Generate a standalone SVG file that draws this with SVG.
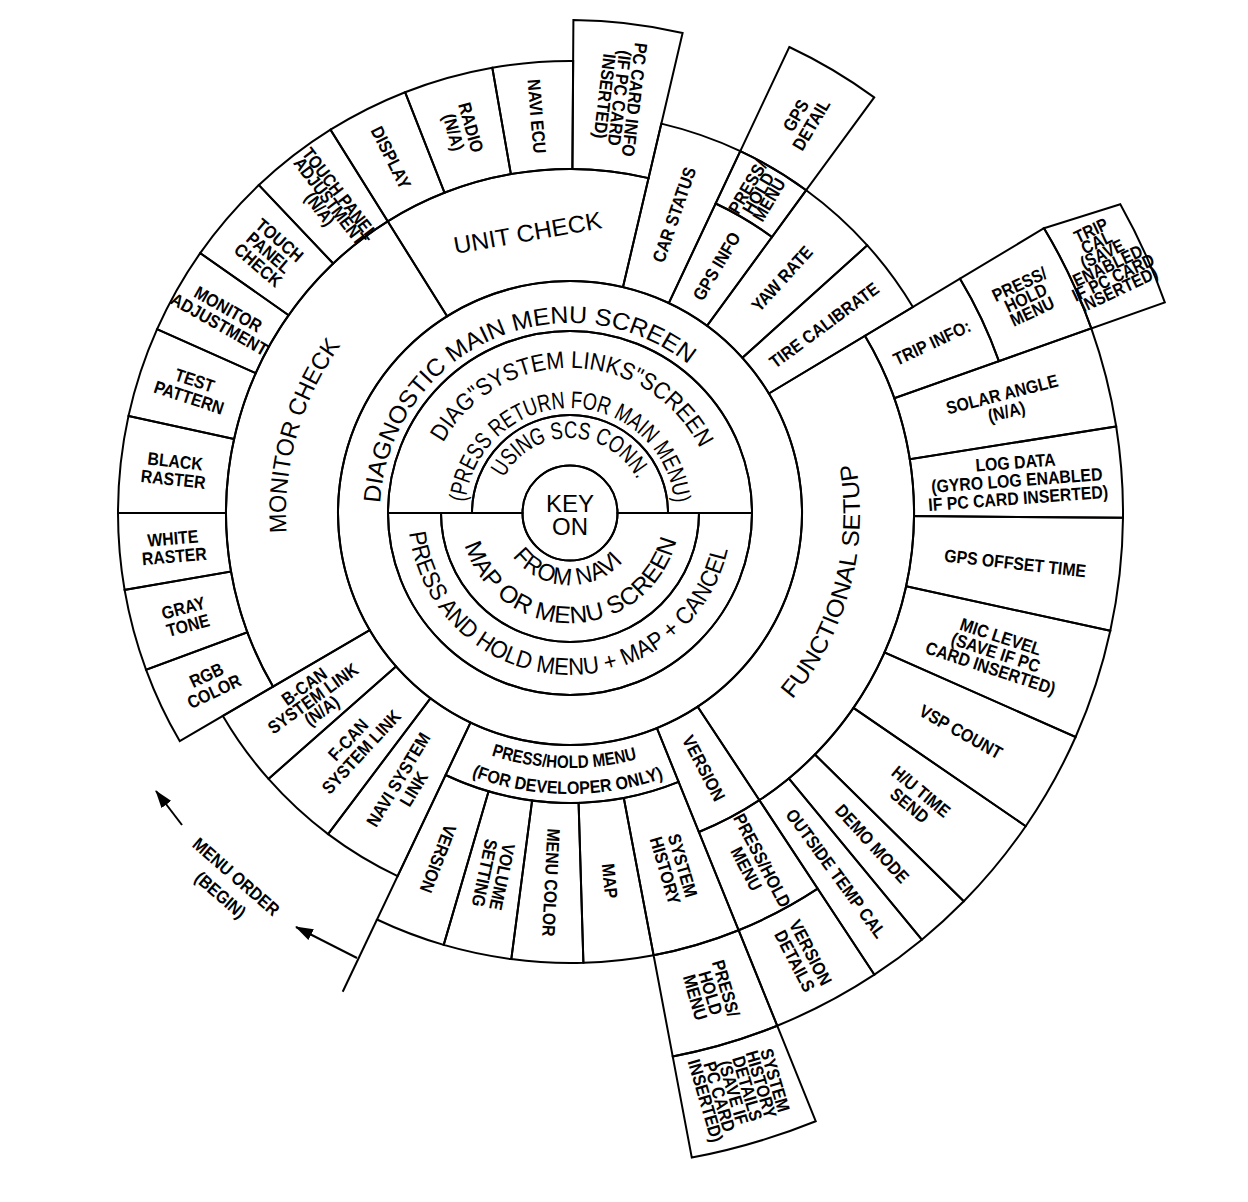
<svg xmlns="http://www.w3.org/2000/svg" width="1248" height="1202" viewBox="0 0 1248 1202">
<style>
.c{fill:none;stroke:#000;stroke-width:2}
.lb{font-family:"Liberation Sans",Arial,Helvetica,sans-serif;font-weight:bold;font-size:18px;text-anchor:middle;fill:#000}
.big{font-family:"Liberation Sans",Arial,Helvetica,sans-serif;font-size:24px;fill:#000}
</style>
<defs>
<marker id="ah" viewBox="0 0 18 12" refX="17" refY="6" markerWidth="18" markerHeight="12" markerUnits="userSpaceOnUse" orient="auto"><path d="M0,0 L18,6 L0,12 Z" fill="#000"/></marker>
<path id="p-diag" d="M 380.3 503.1 A 190 190 0 0 1 694.7 369.6"/>
<path id="p-links" d="M 443.2 442.7 A 145 145 0 0 1 702.5 454.0"/>
<path id="p-press" d="M 465.6 502.0 A 105 105 0 0 1 674.9 508.4"/>
<path id="p-scs" d="M 503.8 477.8 A 75 75 0 0 1 638.5 482.5"/>
<path id="p-navi" d="M 512.5 556.3 A 72 72 0 0 0 626.0 558.3"/>
<path id="p-map" d="M 464.8 545.2 A 110 110 0 0 0 678.0 534.0"/>
<path id="p-hold" d="M 409.2 532.7 A 162 162 0 0 0 729.5 541.1"/>
<path id="p-mon" d="M 286.7 532.8 A 284 284 0 0 1 343.2 342.1"/>
<path id="p-func" d="M 792.2 699.4 A 290 290 0 0 0 854.7 457.7"/>
<path id="p-dev1" d="M 489.1 754.8 A 255 255 0 0 0 639.4 758.4"/>
<path id="p-dev2" d="M 469.3 775.3 A 281 281 0 0 0 666.1 777.1"/>
</defs>
<rect x="0" y="0" width="1248" height="1202" fill="#fff"/>

<!-- centre -->
<g id="key-on"><circle class="c" cx="570" cy="513" r="47.5"/>
<text class="big" font-size="23" text-anchor="middle"><tspan x="570" y="512">KEY</tspan><tspan x="570" y="535">ON</tspan></text></g>
<g id="using-scs"><path class="c" d="M 472 513 A 98 98 0 0 1 668 513 L 617.5 513 A 47.5 47.5 0 0 0 522.5 513 Z"/>
<text class="big" font-size="19"><textPath href="#p-scs" textLength="164" lengthAdjust="spacingAndGlyphs">USING SCS CONN.</textPath></text></g>
<g id="system-links"><path class="c" d="M 388 513 A 182 182 0 0 1 752 513 L 668 513 A 98 98 0 0 0 472 513 Z"/>
<text class="big" font-size="22"><textPath href="#p-links" textLength="315" lengthAdjust="spacingAndGlyphs">DIAG"SYSTEM LINKS"SCREEN</textPath></text>
<text class="big" font-size="21"><textPath href="#p-press" textLength="308" lengthAdjust="spacingAndGlyphs">(PRESS RETURN FOR MAIN MENU)</textPath></text></g>
<g id="from-navi"><path class="c" d="M 441 513 A 129 129 0 0 0 699 513 L 617.5 513 A 47.5 47.5 0 0 1 522.5 513 Z"/>
<text class="big" font-size="21"><textPath href="#p-navi" textLength="126" lengthAdjust="spacingAndGlyphs">FROM NAVI</textPath></text>
<text class="big" font-size="21"><textPath href="#p-map" textLength="285" lengthAdjust="spacingAndGlyphs">MAP OR MENU SCREEN</textPath></text></g>
<g id="press-hold-cancel"><path class="c" d="M 388 513 A 182 182 0 0 0 752 513 L 699 513 A 129 129 0 0 1 441 513 Z"/>
<text class="big" font-size="22"><textPath href="#p-hold" textLength="452" lengthAdjust="spacingAndGlyphs">PRESS AND HOLD MENU + MAP + CANCEL</textPath></text></g>
<g id="main-menu"><circle class="c" cx="570" cy="513" r="182"/><circle class="c" cx="570" cy="513" r="232"/>
<text class="big" font-size="25"><textPath href="#p-diag" textLength="416" lengthAdjust="spacingAndGlyphs">DIAGNOSTIC MAIN MENU SCREEN</textPath></text></g>

<!-- main sectors -->
<g id="monitor-check"><path class="c" d="M 369.7 630.1 L 273.0 686.6 A 344 344 0 0 1 387.7 221.3 L 447.1 316.3 A 232 232 0 0 0 369.7 630.1 Z"/>
<text class="big" font-size="28"><textPath href="#p-mon" textLength="199" lengthAdjust="spacingAndGlyphs">MONITOR CHECK</textPath></text></g>
<g id="unit-check"><path class="c" d="M 447.1 316.3 L 387.7 221.3 A 344 344 0 0 1 648.6 178.1 L 623.0 287.1 A 232 232 0 0 0 447.1 316.3 Z"/>
<text class="big" font-size="27" text-anchor="middle" transform="translate(529,241) rotate(-10)" textLength="150" lengthAdjust="spacingAndGlyphs">UNIT CHECK</text></g>
<g id="functional-setup"><path class="c" d="M 768.9 393.5 L 864.9 335.8 A 344 344 0 0 1 759.4 800.2 L 697.7 706.7 A 232 232 0 0 0 768.9 393.5 Z"/>
<text class="big" font-size="28"><textPath href="#p-func" textLength="252" lengthAdjust="spacingAndGlyphs">FUNCTIONAL SETUP</textPath></text></g>

<!-- monitor check items -->
<g id="rgb-color"><path class="c" d="M 273.0 686.6 L 179.7 741.1 A 452 452 0 0 1 146.1 669.8 L 247.4 632.3 A 344 344 0 0 0 273.0 686.6 Z"/>
<text class="lb" transform="translate(210.2,683.1) rotate(-25.3) scale(0.88,1)"><tspan x="0" y="-2.5">RGB</tspan><tspan x="0" y="15.5">COLOR</tspan></text></g>
<g id="gray-tone"><path class="c" d="M 247.4 632.3 L 146.1 669.8 A 452 452 0 0 1 124.6 589.9 L 231.0 571.6 A 344 344 0 0 0 247.4 632.3 Z"/>
<text class="lb" transform="translate(185.6,616.4) rotate(-15.05) scale(0.88,1)"><tspan x="0" y="-2.5">GRAY</tspan><tspan x="0" y="15.5">TONE</tspan></text></g>
<g id="white-raster"><path class="c" d="M 231.0 571.6 L 124.6 589.9 A 452 452 0 0 1 118 513 L 226 513 A 344 344 0 0 0 231.0 571.6 Z"/>
<text class="lb" transform="translate(173.5,547) rotate(-4.9) scale(0.88,1)"><tspan x="0" y="-2.5">WHITE</tspan><tspan x="0" y="15.5">RASTER</tspan></text></g>
<g id="black-raster"><path class="c" d="M 226 513 L 118 513 A 452 452 0 0 1 128.5 415.9 L 234.0 439.1 A 344 344 0 0 0 226 513 Z"/>
<text class="lb" transform="translate(174.3,470) rotate(6.2) scale(0.88,1)"><tspan x="0" y="-2.5">BLACK</tspan><tspan x="0" y="15.5">RASTER</tspan></text></g>
<g id="test-pattern"><path class="c" d="M 234.0 439.1 L 128.5 415.9 A 452 452 0 0 1 157.1 329.2 L 255.7 373.1 A 344 344 0 0 0 234.0 439.1 Z"/>
<text class="lb" transform="translate(191.9,388.7) rotate(18.2) scale(0.88,1)"><tspan x="0" y="-2.5">TEST</tspan><tspan x="0" y="15.5">PATTERN</tspan></text></g>
<g id="monitor-adjustment"><path class="c" d="M 255.7 373.1 L 157.1 329.2 A 452 452 0 0 1 200.2 253.1 L 288.6 315.2 A 344 344 0 0 0 255.7 373.1 Z"/>
<text class="lb" font-size="17" transform="translate(223.8,316.7) rotate(29.55) scale(0.88,1)"><tspan x="0" y="-2.5">MONITOR</tspan><tspan x="0" y="15">ADJUSTMENT</tspan></text></g>
<g id="touch-panel-check"><path class="c" d="M 288.6 315.2 L 200.2 253.1 A 452 452 0 0 1 258.9 185.1 L 333.2 263.5 A 344 344 0 0 0 288.6 315.2 Z"/>
<text class="lb" transform="translate(268.7,252.9) rotate(40.8) scale(0.88,1)"><tspan x="0" y="-10.5">TOUCH</tspan><tspan x="0" y="6">PANEL</tspan><tspan x="0" y="22.5">CHECK</tspan></text></g>
<g id="touch-panel-adjustment"><path class="c" d="M 333.2 263.5 L 258.9 185.1 A 452 452 0 0 1 330.5 129.7 L 387.7 221.3 A 344 344 0 0 0 333.2 263.5 Z"/>
<text class="lb" font-size="13.5" transform="translate(329,202) rotate(52.25) scale(0.86,1)"><tspan x="0" y="-7.5">TOUCH PANEL</tspan><tspan x="0" y="5">ADJUSTMENT</tspan><tspan x="0" y="17.5">(N/A)</tspan></text></g>

<!-- unit check items -->
<g id="display"><path class="c" d="M 387.7 221.3 L 330.5 129.7 A 452 452 0 0 1 405.1 92.2 L 444.5 192.7 A 344 344 0 0 0 387.7 221.3 Z"/>
<text class="lb" transform="translate(391.2,157.4) rotate(63.3) scale(0.88,1)"><tspan x="0" y="6.5">DISPLAY</tspan></text></g>
<g id="radio"><path class="c" d="M 444.5 192.7 L 405.1 92.2 A 452 452 0 0 1 492.3 67.7 L 510.9 174.1 A 344 344 0 0 0 444.5 192.7 Z"/>
<text class="lb" transform="translate(462.6,129.8) rotate(74.35) scale(0.88,1)"><tspan x="0" y="-2.5">RADIO</tspan><tspan x="0" y="15.5">(N/A)</tspan></text></g>
<g id="navi-ecu"><path class="c" d="M 510.9 174.1 L 492.3 67.7 A 452 452 0 0 1 573.2 61.0 L 572.4 169.0 A 344 344 0 0 0 510.9 174.1 Z"/>
<text class="lb" transform="translate(537,116.3) rotate(85.25) scale(0.88,1)"><tspan x="0" y="6.5">NAVI ECU</tspan></text></g>
<g id="pc-card-info"><path class="c" d="M 572.4 169.0 L 573.4 20.0 A 493 493 0 0 1 682.6 33.0 L 648.6 178.1 A 344 344 0 0 0 572.4 169.0 Z"/>
<text class="lb" font-size="17" transform="translate(619.5,98) rotate(96.8) scale(0.88,1)"><tspan x="0" y="-8.9">PC CARD INFO</tspan><tspan x="0" y="6.1">(IF PC CARD</tspan><tspan x="0" y="21.1">INSERTED)</tspan></text></g>

<!-- functional setup items -->
<g id="car-status"><path class="c" d="M 623.0 287.1 L 661.3 123.6 A 400 400 0 0 1 740.3 151.1 L 668.8 303.1 A 232 232 0 0 0 623.0 287.1 Z"/>
<text class="lb" transform="translate(674,214.6) rotate(-70.8) scale(0.88,1)"><tspan x="0" y="6.5">CAR STATUS</tspan></text></g>
<g id="gps-info"><path class="c" d="M 668.8 303.1 L 715.6 203.5 A 342 342 0 0 1 772.0 237.0 L 707.0 325.8 A 232 232 0 0 0 668.8 303.1 Z"/>
<text class="lb" transform="translate(716.5,266.2) rotate(-59.3) scale(0.88,1)"><tspan x="0" y="6.5">GPS INFO</tspan></text></g>
<g id="gps-press-hold"><path class="c" d="M 715.6 203.5 L 740.3 151.1 A 400 400 0 0 1 806.2 190.2 L 772.0 237.0 A 342 342 0 0 0 715.6 203.5 Z"/>
<text class="lb" font-size="13.5" transform="translate(759.4,194) rotate(-59.3) scale(0.88,1)"><tspan x="0" y="-7.5">PRESS/</tspan><tspan x="0" y="5">HOLD</tspan><tspan x="0" y="17.5">MENU</tspan></text></g>
<g id="gps-detail"><path class="c" d="M 740.3 151.1 L 789.3 47.0 A 515 515 0 0 1 874.2 97.4 L 806.2 190.2 A 400 400 0 0 0 740.3 151.1 Z"/>
<text class="lb" transform="translate(803.3,120) rotate(-59.3) scale(0.88,1)"><tspan x="0" y="-2.5">GPS</tspan><tspan x="0" y="15.5">DETAIL</tspan></text></g>
<g id="yaw-rate"><path class="c" d="M 707.0 325.8 L 806.2 190.2 A 400 400 0 0 1 867.3 245.3 L 742.4 357.8 A 232 232 0 0 0 707.0 325.8 Z"/>
<text class="lb" transform="translate(781.8,278.5) rotate(-47.9) scale(0.88,1)"><tspan x="0" y="6.5">YAW RATE</tspan></text></g>
<g id="tire-calibrate"><path class="c" d="M 742.4 357.8 L 867.3 245.3 A 400 400 0 0 1 912.9 307.0 L 768.9 393.5 A 232 232 0 0 0 742.4 357.8 Z"/>
<text class="lb" transform="translate(824,325) rotate(-36.5) scale(0.88,1)"><tspan x="0" y="6.5">TIRE CALIBRATE</tspan></text></g>
<g id="trip-info"><path class="c" d="M 864.9 335.8 L 960.0 278.7 A 455 455 0 0 1 998.9 361.1 L 894.3 398.2 A 344 344 0 0 0 864.9 335.8 Z"/>
<text class="lb" transform="translate(931.8,342.4) rotate(-25.25) scale(0.88,1)"><tspan x="0" y="6.5">TRIP INFO:</tspan></text></g>
<g id="trip-press-hold"><path class="c" d="M 960.0 278.7 L 1044.0 228.2 A 553 553 0 0 1 1091.3 328.4 L 998.9 361.1 A 455 455 0 0 0 960.0 278.7 Z"/>
<text class="lb" font-size="17" transform="translate(1025.8,298) rotate(-25.25) scale(0.88,1)"><tspan x="0" y="-8.9">PRESS/</tspan><tspan x="0" y="6.1">HOLD</tspan><tspan x="0" y="21.1">MENU</tspan></text></g>
<g id="trip-cal"><path class="c" d="M 1044.0 228.2 L 1120.3 204.2 A 631 631 0 0 1 1164.8 302.4 L 1091.3 328.4 A 553 553 0 0 0 1044.0 228.2 Z"/>
<text class="lb" font-size="13" transform="translate(1105.4,261) rotate(-25.25) scale(0.86,1)"><tspan x="0" y="-27.5">TRIP</tspan><tspan x="0" y="-14.5">CAL</tspan><tspan x="0" y="-1.5">(SAVE</tspan><tspan x="0" y="11.5">ENABLED</tspan><tspan x="0" y="24.5">IF PC CARD</tspan><tspan x="0" y="37.5">INSERTED)</tspan></text></g>
<g id="solar-angle"><path class="c" d="M 894.3 398.2 L 1091.3 328.4 A 553 553 0 0 1 1116.2 426.5 L 909.8 459.2 A 344 344 0 0 0 894.3 398.2 Z"/>
<text class="lb" transform="translate(1004.2,402.7) rotate(-14.25) scale(0.88,1)"><tspan x="0" y="-2.5">SOLAR ANGLE</tspan><tspan x="0" y="15.5">(N/A)</tspan></text></g>
<g id="log-data"><path class="c" d="M 909.8 459.2 L 1116.2 426.5 A 553 553 0 0 1 1123.0 517.8 L 914.0 516.0 A 344 344 0 0 0 909.8 459.2 Z"/>
<text class="lb" font-size="18.5" transform="translate(1016.8,479.8) rotate(-4.25) scale(0.88,1)"><tspan x="0" y="-11.3">LOG DATA</tspan><tspan x="0" y="6.7">(GYRO LOG ENABLED</tspan><tspan x="0" y="24.7">IF PC CARD INSERTED)</tspan></text></g>
<g id="gps-offset-time"><path class="c" d="M 914.0 516.0 L 1123.0 517.8 A 553 553 0 0 1 1110.3 630.8 L 906.1 586.3 A 344 344 0 0 0 914.0 516.0 Z"/>
<text class="lb" transform="translate(1015.2,563) rotate(6.4) scale(0.88,1)"><tspan x="0" y="6.5">GPS OFFSET TIME</tspan></text></g>
<g id="mic-level"><path class="c" d="M 906.1 586.3 L 1110.3 630.8 A 553 553 0 0 1 1075.6 737.0 L 884.5 652.4 A 344 344 0 0 0 906.1 586.3 Z"/>
<text class="lb" font-size="18.5" transform="translate(995.8,652.2) rotate(18.1) scale(0.88,1)"><tspan x="0" y="-10">MIC LEVEL</tspan><tspan x="0" y="6.5">(SAVE IF PC</tspan><tspan x="0" y="23">CARD INSERTED)</tspan></text></g>
<g id="vsp-count"><path class="c" d="M 884.5 652.4 L 1075.6 737.0 A 553 553 0 0 1 1025.7 826.2 L 853.5 707.9 A 344 344 0 0 0 884.5 652.4 Z"/>
<text class="lb" transform="translate(961,731.6) rotate(29.2) scale(0.88,1)"><tspan x="0" y="6.5">VSP COUNT</tspan></text></g>
<g id="hu-time-send"><path class="c" d="M 853.5 707.9 L 1025.7 826.2 A 553 553 0 0 1 963.8 901.3 L 814.9 754.5 A 344 344 0 0 0 853.5 707.9 Z"/>
<text class="lb" transform="translate(915.5,798.2) rotate(39.55) scale(0.88,1)"><tspan x="0" y="-2.5">H/U TIME</tspan><tspan x="0" y="15.5">SEND</tspan></text></g>
<g id="demo-mode"><path class="c" d="M 814.9 754.5 L 963.8 901.3 A 553 553 0 0 1 921.8 939.7 L 788.8 778.4 A 344 344 0 0 0 814.9 754.5 Z"/>
<text class="lb" transform="translate(872.4,843.6) rotate(47.55) scale(0.88,1)"><tspan x="0" y="6.5">DEMO MODE</tspan></text></g>
<g id="outside-temp-cal"><path class="c" d="M 788.8 778.4 L 921.8 939.7 A 553 553 0 0 1 874.4 974.7 L 759.4 800.2 A 344 344 0 0 0 788.8 778.4 Z"/>
<text class="lb" transform="translate(836.2,873.3) rotate(53.55) scale(0.88,1)"><tspan x="0" y="6.5">OUTSIDE TEMP CAL</tspan></text></g>

<!-- version / developer items -->
<g id="version-right"><path class="c" d="M 697.7 706.7 L 759.4 800.2 A 344 344 0 0 1 698.9 832.0 L 656.9 728.1 A 232 232 0 0 0 697.7 706.7 Z"/>
<text class="lb" transform="translate(703.9,768) rotate(62.3) scale(0.88,1)"><tspan x="0" y="6.5">VERSION</tspan></text></g>
<g id="version-press-hold"><path class="c" d="M 759.4 800.2 L 817.7 888.7 A 450 450 0 0 1 738.6 930.2 L 698.9 832.0 A 344 344 0 0 0 759.4 800.2 Z"/>
<text class="lb" transform="translate(754.5,864.5) rotate(62.3) scale(0.88,1)"><tspan x="0" y="-2.5">PRESS/HOLD</tspan><tspan x="0" y="15.5">MENU</tspan></text></g>
<g id="version-details"><path class="c" d="M 817.7 888.7 L 874.4 974.7 A 553 553 0 0 1 777.2 1025.7 L 738.6 930.2 A 450 450 0 0 0 817.7 888.7 Z"/>
<text class="lb" transform="translate(802.9,956.6) rotate(62.3) scale(0.88,1)"><tspan x="0" y="-2.5">VERSION</tspan><tspan x="0" y="15.5">DETAILS</tspan></text></g>
<g id="developer-menu"><path class="c" d="M 656.9 728.1 L 678.6 781.9 A 290 290 0 0 1 445.6 775.0 L 470.5 722.6 A 232 232 0 0 0 656.9 728.1 Z"/>
<text class="lb" font-size="16"><textPath href="#p-dev1" startOffset="50%" textLength="148" lengthAdjust="spacingAndGlyphs">PRESS/HOLD MENU</textPath></text>
<text class="lb" font-size="16"><textPath href="#p-dev2" startOffset="50%" textLength="196" lengthAdjust="spacingAndGlyphs">(FOR DEVELOPER ONLY)</textPath></text></g>
<g id="system-history"><path class="c" d="M 678.6 781.9 L 738.6 930.2 A 450 450 0 0 1 653.6 955.2 L 623.8 798.0 A 290 290 0 0 0 678.6 781.9 Z"/>
<text class="lb" transform="translate(674.2,868) rotate(73.65) scale(0.88,1)"><tspan x="0" y="-2.5">SYSTEM</tspan><tspan x="0" y="15.5">HISTORY</tspan></text></g>
<g id="history-press-hold"><path class="c" d="M 738.6 930.2 L 777.2 1025.7 A 553 553 0 0 1 672.7 1056.4 L 653.6 955.2 A 450 450 0 0 0 738.6 930.2 Z"/>
<text class="lb" transform="translate(710.8,992.8) rotate(73.65) scale(0.88,1)"><tspan x="0" y="-9.5">PRESS/</tspan><tspan x="0" y="6.5">HOLD</tspan><tspan x="0" y="22.5">MENU</tspan></text></g>
<g id="system-history-details"><path class="c" d="M 777.2 1025.7 L 815.7 1121.2 A 656 656 0 0 1 691.8 1157.6 L 672.7 1056.4 A 553 553 0 0 0 777.2 1025.7 Z"/>
<text class="lb" font-size="15" transform="translate(739.5,1090.7) rotate(73.65) scale(0.88,1)"><tspan x="0" y="-30.85">SYSTEM</tspan><tspan x="0" y="-16.35">HISTORY</tspan><tspan x="0" y="-1.85">DETAILS</tspan><tspan x="0" y="12.65">(SAVE IF</tspan><tspan x="0" y="27.15">PC CARD</tspan><tspan x="0" y="41.65">INSERTED)</tspan></text></g>
<g id="map"><path class="c" d="M 623.8 798.0 L 653.6 955.2 A 450 450 0 0 1 583.4 962.8 L 578.6 802.9 A 290 290 0 0 0 623.8 798.0 Z"/>
<text class="lb" transform="translate(610,880.9) rotate(83.8) scale(0.88,1)"><tspan x="0" y="6.5">MAP</tspan></text></g>
<g id="menu-color"><path class="c" d="M 578.6 802.9 L 583.4 962.8 A 450 450 0 0 1 511.3 959.1 L 532.1 800.5 A 290 290 0 0 0 578.6 802.9 Z"/>
<text class="lb" transform="translate(551.3,882.5) rotate(92.9) scale(0.88,1)"><tspan x="0" y="6.5">MENU COLOR</tspan></text></g>
<g id="volume-setting"><path class="c" d="M 532.1 800.5 L 511.3 959.1 A 450 450 0 0 1 443.7 944.9 L 488.6 791.3 A 290 290 0 0 0 532.1 800.5 Z"/>
<text class="lb" transform="translate(493.7,875) rotate(101.9) scale(0.88,1)"><tspan x="0" y="-2.5">VOLUME</tspan><tspan x="0" y="15.5">SETTING</tspan></text></g>
<g id="version-left"><path class="c" d="M 488.6 791.3 L 443.7 944.9 A 450 450 0 0 1 377.0 919.5 L 445.6 775.0 A 290 290 0 0 0 488.6 791.3 Z"/>
<text class="lb" transform="translate(438.3,858.8) rotate(110.85) scale(0.88,1)"><tspan x="0" y="6.5">VERSION</tspan></text></g>

<!-- system links -->
<g id="navi-system-link"><path class="c" d="M 470.5 722.6 L 397.6 876.1 A 402 402 0 0 1 328.1 834.1 L 430.4 698.3 A 232 232 0 0 0 470.5 722.6 Z"/>
<text class="lb" transform="translate(405.8,784.2) rotate(-58.8) scale(0.88,1)"><tspan x="0" y="-2.5">NAVI SYSTEM</tspan><tspan x="0" y="15.5">LINK</tspan></text></g>
<g id="f-can"><path class="c" d="M 430.4 698.3 L 328.1 834.1 A 402 402 0 0 1 268.5 778.9 L 396.0 666.4 A 232 232 0 0 0 430.4 698.3 Z"/>
<text class="lb" transform="translate(354.6,745.6) rotate(-47.2) scale(0.88,1)"><tspan x="0" y="-2.5">F-CAN</tspan><tspan x="0" y="15.5">SYSTEM LINK</tspan></text></g>
<g id="b-can"><path class="c" d="M 396.0 666.4 L 268.5 778.9 A 402 402 0 0 1 222.9 715.9 L 369.7 630.1 A 232 232 0 0 0 396.0 666.4 Z"/>
<text class="lb" font-size="17" transform="translate(313,698.6) rotate(-35.85) scale(0.88,1)"><tspan x="0" y="-8.9">B-CAN</tspan><tspan x="0" y="6.1">SYSTEM LINK</tspan><tspan x="0" y="21.1">(N/A)</tspan></text></g>

<g id="menu-order"><text class="lb" font-size="17" transform="translate(236,877) rotate(41) scale(0.88,1)"><tspan x="0" y="6">MENU ORDER</tspan><tspan x="0" y="30">(BEGIN)</tspan></text></g>

<g id="connectors">
<path class="c" d="M 377.0 919.5 L 342.7 991.8"/>
<line class="c" x1="182" y1="825" x2="156" y2="791" marker-end="url(#ah)"/>
<line class="c" x1="357" y1="958" x2="296" y2="927" marker-end="url(#ah)"/>
</g>
</svg>
